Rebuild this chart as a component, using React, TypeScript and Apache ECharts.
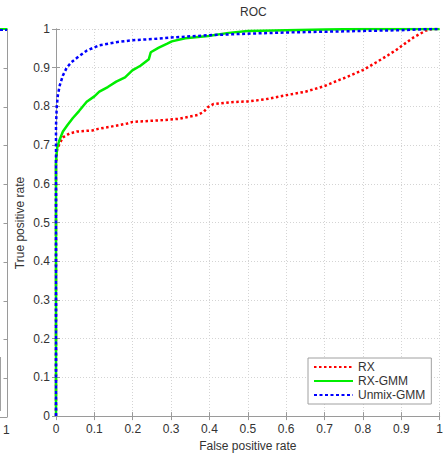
import React, { useEffect, useRef } from "react";
import * as echarts from "echarts";

const tickValues = [0, 0.1, 0.2, 0.3, 0.4, 0.5, 0.6, 0.7, 0.8, 0.9, 1];
const seriesNames = ["RX", "RX-GMM", "Unmix-GMM"];

const rxFpr = [0, 0, 0.003, 0.01, 0.018, 0.035, 0.054, 0.095, 0.11, 0.139, 0.186, 0.2, 0.25, 0.286, 0.32, 0.345, 0.37, 0.385, 0.397, 0.41, 0.457, 0.5, 0.543, 0.58, 0.611, 0.65, 0.698, 0.74, 0.758, 0.8, 0.835, 0.865, 0.887, 0.93, 0.964, 0.98, 1];
const rxTpr = [0, 0.65, 0.69, 0.705, 0.72, 0.73, 0.735, 0.738, 0.742, 0.747, 0.756, 0.76, 0.763, 0.765, 0.768, 0.773, 0.778, 0.786, 0.799, 0.806, 0.811, 0.813, 0.818, 0.825, 0.831, 0.838, 0.852, 0.869, 0.876, 0.894, 0.914, 0.932, 0.946, 0.977, 0.996, 1, 1];

const gmmFpr = [0, 0, 0.003, 0.008, 0.018, 0.03, 0.044, 0.06, 0.08, 0.1, 0.113, 0.135, 0.157, 0.18, 0.199, 0.22, 0.242, 0.247, 0.268, 0.29, 0.302, 0.337, 0.397, 0.45, 0.5, 0.6, 0.7, 0.8, 1];
const gmmTpr = [0, 0.66, 0.693, 0.71, 0.735, 0.752, 0.77, 0.788, 0.812, 0.826, 0.838, 0.85, 0.864, 0.875, 0.893, 0.905, 0.922, 0.94, 0.952, 0.962, 0.968, 0.976, 0.982, 0.99, 0.995, 0.997, 0.999, 1, 1];

const unmixFpr = [0, 0, 0.002, 0.005, 0.01, 0.018, 0.028, 0.04, 0.054, 0.08, 0.113, 0.157, 0.2, 0.25, 0.3, 0.4, 0.5, 0.6, 0.7, 0.8, 0.9, 0.97, 1];
const unmixTpr = [0, 0.75, 0.8, 0.83, 0.855, 0.88, 0.9, 0.914, 0.925, 0.944, 0.958, 0.966, 0.971, 0.974, 0.978, 0.984, 0.988, 0.991, 0.993, 0.995, 0.997, 1, 1];

const zip = (a: number[], b: number[]) => a.map((v, i) => [v, b[i]]);

const FONT = "Liberation Sans, Arial, Helvetica, sans-serif";
const AXIS_COLOR = "#9a9a9a";
const TEXT_COLOR = "#333333";

export default function App() {
  const ref = useRef<HTMLDivElement>(null);
  useEffect(() => {
    if (!ref.current) return;
    const chart = echarts.init(ref.current, undefined, { renderer: "svg" });
    const fmt = (v: number) => {
      const r = Math.round(v * 10) / 10;
      return r === 0 ? "0" : r === 1 ? "1" : String(r);
    };
    const baseAxis = {
      type: "value" as const,
      min: 0,
      max: 1,
      interval: 0.1,
      axisLine: { show: true, lineStyle: { color: AXIS_COLOR, width: 1 } },
      axisTick: { show: true, inside: true, length: 4, lineStyle: { color: AXIS_COLOR } },
    };
    const leftTickYs = tickValues.slice(1, 10).map((v) => 417 - v * 388);
    chart.setOption({
      animation: false,
      backgroundColor: "#ffffff",
      textStyle: { fontFamily: FONT },
      grid: { left: 56, top: 29, width: 388, height: 388, containLabel: false },
      xAxis: [
        {
          ...baseAxis,
          position: "bottom",
          name: "False positive rate",
          nameLocation: "middle",
          nameGap: 21,
          nameTextStyle: { color: TEXT_COLOR, fontSize: 12, fontFamily: FONT },
          axisLabel: { color: TEXT_COLOR, fontSize: 12, margin: 7, formatter: fmt, fontFamily: FONT },
          splitLine: { show: true, lineStyle: { color: "#d4d4d4", type: [1, 2], width: 1 } },
        },
        {
          ...baseAxis,
          position: "top",
          axisLabel: { show: false },
          splitLine: { show: false },
        },
      ],
      yAxis: [
        {
          ...baseAxis,
          position: "left",
          axisLabel: { color: TEXT_COLOR, fontSize: 12, margin: 6, formatter: fmt, fontFamily: FONT },
          splitLine: { show: true, lineStyle: { color: "#d4d4d4", type: [1, 2], width: 1 } },
        },
        {
          ...baseAxis,
          position: "right",
          axisLabel: { show: false },
          splitLine: { show: false },
        },
      ],
      legend: {
        left: 308,
        top: 358,
        orient: "vertical",
        backgroundColor: "#ffffff",
        borderColor: "#a0a0a0",
        borderWidth: 1,
        borderRadius: 0,
        padding: [3, 6, 3, 5],
        itemGap: 2,
        itemWidth: 39,
        itemHeight: 14,
        itemStyle: { opacity: 0 },
        textStyle: { color: TEXT_COLOR, fontSize: 12, fontFamily: FONT },
        data: seriesNames,
      },
      series: [
        {
          name: seriesNames[0],
          type: "line",
          data: zip(rxFpr, rxTpr),
          symbol: "none",
          color: "#ff0000",
          lineStyle: { color: "#ff0000", width: 2.5, type: [2.5, 2.5] },
          z: 2,
        },
        {
          name: seriesNames[1],
          type: "line",
          data: zip(gmmFpr, gmmTpr),
          symbol: "none",
          color: "#00ee00",
          lineStyle: { color: "#00ee00", width: 2.5, type: "solid" },
          z: 3,
        },
        {
          name: seriesNames[2],
          type: "line",
          data: zip(unmixFpr, unmixTpr),
          symbol: "none",
          color: "#0000ff",
          lineStyle: { color: "#0000ff", width: 2.5, type: [3, 2.5] },
          z: 4,
        },
      ],
      graphic: [
        {
          type: "text",
          left: 240,
          top: 6,
          style: { text: "ROC", fill: TEXT_COLOR, font: `12px ${FONT}` },
        },
        {
          type: "text",
          x: 20,
          y: 223,
          rotation: Math.PI / 2,
          style: {
            text: "True positive rate",
            fill: TEXT_COLOR,
            font: `12px ${FONT}`,
            align: "center",
            verticalAlign: "middle",
          },
        },
        // fragment of neighbouring plot at left edge
        { type: "line", shape: { x1: 7.5, y1: 29, x2: 7.5, y2: 417 }, style: { stroke: AXIS_COLOR, lineWidth: 1 } },
        { type: "line", shape: { x1: 0, y1: 417.5, x2: 7.5, y2: 417.5 }, style: { stroke: AXIS_COLOR, lineWidth: 1 } },
        { type: "line", shape: { x1: 0, y1: 29, x2: 7.5, y2: 29 }, style: { stroke: "#00ee00", lineWidth: 2 } },
        { type: "line", shape: { x1: 0, y1: 30, x2: 7, y2: 30 }, style: { stroke: "#0000ff", lineWidth: 2, lineDash: [3, 2] } },
        ...leftTickYs.map((y) => ({
          type: "line",
          shape: { x1: 3.5, y1: Math.round(y) + 0.5, x2: 7.5, y2: Math.round(y) + 0.5 },
          style: { stroke: AXIS_COLOR, lineWidth: 1 },
        })),
        { type: "line", shape: { x1: 0.5, y1: 357, x2: 0.5, y2: 410.5 }, style: { stroke: "#a0a0a0", lineWidth: 1 } },
        { type: "line", shape: { x1: 0, y1: 410.5, x2: 1, y2: 410.5 }, style: { stroke: "#a0a0a0", lineWidth: 1 } },
        {
          type: "text",
          left: 3,
          top: 424,
          style: { text: "1", fill: TEXT_COLOR, font: `12px ${FONT}` },
        },
      ],
    });
    return () => chart.dispose();
  }, []);
  return (
    <div
      ref={ref}
      style={{ position: "fixed", left: 0, top: 0, width: 446, height: 457, background: "#fff" }}
    />
  );
}
